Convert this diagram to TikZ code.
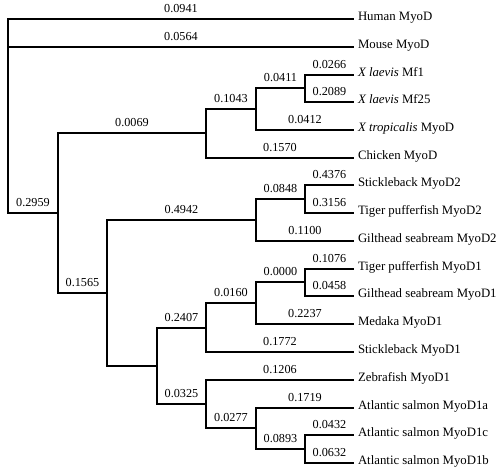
\documentclass[tikz,border=0pt]{standalone}
\usepackage{fontspec}
\setmainfont{Liberation Serif}
\begin{document}
\begin{tikzpicture}[x=1pt,y=-1pt,
  br/.style={line width=2pt},
  bl/.style={font=\fontsize{12.2}{14}\selectfont, anchor=base, inner sep=0pt, yshift=6.5pt},
  lf/.style={font=\fontsize{12.8}{14}\selectfont, anchor=base west, inner sep=0pt, xshift=3pt, yshift=-1.5pt}]
\useasboundingbox (0,0) rectangle (500,472);
% internal nodes
\coordinate (R)  at (8,116);
\coordinate (A)  at (58,213);
\coordinate (T)  at (206,133);
\coordinate (X)  at (256,109);
\coordinate (L)  at (305,88);
\coordinate (B)  at (107,293);
\coordinate (M2) at (256,220);
\coordinate (M2i) at (305,199);
\coordinate (C)  at (157,366);
\coordinate (D)  at (206,328);
\coordinate (E)  at (256,303);
\coordinate (Ei) at (305,282);
\coordinate (F)  at (206,404);
\coordinate (G)  at (256,428);
\coordinate (H)  at (305,449);
% leaf tips
\foreach \i/\yy in {0/19,1/47,2/75,3/102,4/130,5/158,6/185,7/213,8/241,9/269,10/296,11/324,12/352,13/380,14/408,15/435,16/463}
  {\coordinate (t\i) at (354,\yy);}
% root
\draw[br] (R) |- node[bl,pos=0.75]{0.0941} (t0) node[lf] (human) {Human MyoD};
\draw[br] (R) |- node[bl,pos=0.75]{0.0564} (t1) node[lf] (mouse) {Mouse MyoD};
\draw[br] (R) |- node[bl,pos=0.75]{0.2959} (A);
% A
\draw[br] (A) |- node[bl,pos=0.75]{0.0069} (T);
\draw[br] (A) |- node[bl,pos=0.75]{0.1565} (B);
% tetrapods
\draw[br] (T) |- node[bl,pos=0.75]{0.1043} (X);
\draw[br] (T) |- node[bl,pos=0.75]{0.1570} (t5) node[lf] (chicken) {Chicken MyoD};
\draw[br] (X) |- node[bl,pos=0.75]{0.0411} (L);
\draw[br] (X) |- node[bl,pos=0.75]{0.0412} (t4) node[lf] (xtrop) {\textit{X tropicalis} MyoD};
\draw[br] (L) |- node[bl,pos=0.75]{0.0266} (t2) node[lf] (mf1) {\textit{X laevis} Mf1};
\draw[br] (L) |- node[bl,pos=0.75]{0.2089} (t3) node[lf] (mf25) {\textit{X laevis} Mf25};
% fish
\draw[br] (B) |- node[bl,pos=0.75]{0.4942} (M2);
\draw[br] (B) |- (C);
\draw[br] (M2) |- node[bl,pos=0.75]{0.0848} (M2i);
\draw[br] (M2) |- node[bl,pos=0.75]{0.1100} (t8) node[lf] (giltd2) {Gilthead seabream MyoD2};
\draw[br] (M2i) |- node[bl,pos=0.75]{0.4376} (t6) node[lf] (stickd2) {Stickleback MyoD2};
\draw[br] (M2i) |- node[bl,pos=0.75]{0.3156} (t7) node[lf] (tigerd2) {Tiger pufferfish MyoD2};
\draw[br] (C) |- node[bl,pos=0.75]{0.2407} (D);
\draw[br] (C) |- node[bl,pos=0.75]{0.0325} (F);
\draw[br] (D) |- node[bl,pos=0.75]{0.0160} (E);
\draw[br] (D) |- node[bl,pos=0.75]{0.1772} (t12) node[lf] (stickd1) {Stickleback MyoD1};
\draw[br] (E) |- node[bl,pos=0.75]{0.0000} (Ei);
\draw[br] (E) |- node[bl,pos=0.75]{0.2237} (t11) node[lf] (medaka) {Medaka MyoD1};
\draw[br] (Ei) |- node[bl,pos=0.75]{0.1076} (t9) node[lf] (tigerd1) {Tiger pufferfish MyoD1};
\draw[br] (Ei) |- node[bl,pos=0.75]{0.0458} (t10) node[lf] (giltd1) {Gilthead seabream MyoD1};
\draw[br] (F) |- node[bl,pos=0.75]{0.1206} (t13) node[lf] (zebra) {Zebrafish MyoD1};
\draw[br] (F) |- node[bl,pos=0.75]{0.0277} (G);
\draw[br] (G) |- node[bl,pos=0.75]{0.1719} (t14) node[lf] (atla) {Atlantic salmon MyoD1a};
\draw[br] (G) |- node[bl,pos=0.75]{0.0893} (H);
\draw[br] (H) |- node[bl,pos=0.75]{0.0432} (t15) node[lf] (atlc) {Atlantic salmon MyoD1c};
\draw[br] (H) |- node[bl,pos=0.75]{0.0632} (t16) node[lf] (atlb) {Atlantic salmon MyoD1b};
\end{tikzpicture}
\end{document}
